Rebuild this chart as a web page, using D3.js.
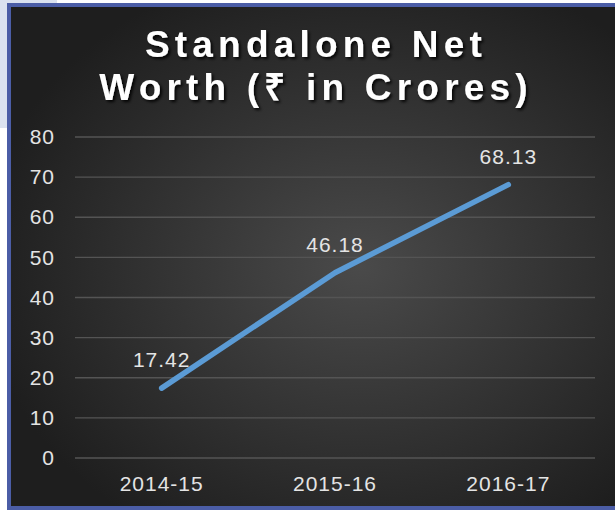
<!DOCTYPE html>
<html>
<head>
<meta charset="utf-8">
<script src="https://cdn.jsdelivr.net/npm/d3@7/dist/d3.min.js"></script>
<style>
  html, body { margin: 0; padding: 0; background: #fff; }
  svg { display: block; }
  .tick-label { font-family: "Liberation Sans", Arial, sans-serif; font-size: 21px; fill: #e4e4e4; letter-spacing: 1px; }
  .title { font-family: "Liberation Sans", Arial, sans-serif; font-size: 37px; font-weight: bold; fill: #fff; letter-spacing: 5.2px; }
</style>
</head>
<body>
<div id="chart"></div>
<script>
// Chart data
const years = ["2014-15", "2015-16", "2016-17"];
const netWorth = [17.42, 46.18, 68.13];
const yTicks = [0, 10, 20, 30, 40, 50, 60, 70, 80];
const titleLines = ["Standalone Net", "Worth (\u20B9 in Crores)"];

const width = 615;
const height = 510;
const margin = {top: 137, right: 20, bottom: 52, left: 75};

const svg = d3.select("#chart")
    .append("svg")
    .attr("width", width)
    .attr("height", height);

const defs = svg.append("defs");

const grad = defs.append("radialGradient")
    .attr("id", "bg")
    .attr("cx", "0.57").attr("cy", "0.52")
    .attr("r", "0.62");
grad.append("stop").attr("offset", "0%").attr("stop-color", "#4a4a4a");
grad.append("stop").attr("offset", "100%").attr("stop-color", "#1e1e1e");

const shadow = defs.append("filter")
    .attr("id", "shadow")
    .attr("x", "-10%").attr("y", "-20%")
    .attr("width", "120%").attr("height", "150%");
shadow.append("feDropShadow")
    .attr("dx", 2).attr("dy", 2)
    .attr("stdDeviation", 1.5)
    .attr("flood-color", "#000")
    .attr("flood-opacity", 0.9);

// pale panel behind the chart, top left
svg.append("rect")
    .attr("x", 0).attr("y", 0)
    .attr("width", 57).attr("height", 128)
    .attr("fill", "#dbe2f0");

// chart frame
svg.append("rect")
    .attr("x", 9).attr("y", 5)
    .attr("width", width).attr("height", 503)
    .attr("fill", "url(#bg)")
    .attr("stroke", "#4b5da6")
    .attr("stroke-width", 4);

// Title
svg.append("text")
    .attr("class", "title")
    .attr("text-anchor", "middle")
    .attr("filter", "url(#shadow)")
    .selectAll("tspan")
    .data(titleLines)
    .join("tspan")
    .attr("x", 316)
    .attr("y", (d, i) => 57 + i * 43)
    .text(d => d);

// Scales
const x = d3.scaleBand()
    .domain(years)
    .range([margin.left, width - margin.right]);

const y = d3.scaleLinear()
    .domain([0, 80])
    .range([height - margin.bottom, margin.top]);

// Gridlines
svg.append("g")
    .selectAll("line")
    .data(yTicks)
    .join("line")
    .attr("x1", margin.left)
    .attr("x2", width - margin.right)
    .attr("y1", d => y(d))
    .attr("y2", d => y(d))
    .attr("stroke", "#545454")
    .attr("stroke-width", 1.3);

// Y axis labels
const yAxis = d3.axisLeft(y).tickValues(yTicks).tickSize(0).tickPadding(20);
const yAxisG = svg.append("g")
    .attr("transform", `translate(${margin.left},0)`)
    .call(yAxis);
yAxisG.select(".domain").remove();
yAxisG.selectAll("text")
    .attr("class", "tick-label")
    .attr("font-size", null)
    .attr("font-family", null)
    .attr("fill", null);

// X axis labels
const xAxis = d3.axisBottom(x).tickSize(0).tickPadding(18);
const xAxisG = svg.append("g")
    .attr("transform", `translate(0,${height - margin.bottom})`)
    .call(xAxis);
xAxisG.select(".domain").remove();
xAxisG.selectAll("text")
    .attr("class", "tick-label")
    .attr("font-size", null)
    .attr("font-family", null)
    .attr("fill", null);

// Line
const line = d3.line()
    .x((d, i) => x(years[i]) + x.bandwidth() / 2)
    .y(d => y(d));

svg.append("path")
    .datum(netWorth)
    .attr("d", line)
    .attr("fill", "none")
    .attr("stroke", "#5b9bd5")
    .attr("stroke-width", 5.5)
    .attr("stroke-linecap", "round")
    .attr("stroke-linejoin", "round");

// Data labels
svg.append("g")
    .selectAll("text")
    .data(netWorth)
    .join("text")
    .attr("class", "tick-label")
    .attr("text-anchor", "middle")
    .attr("x", (d, i) => x(years[i]) + x.bandwidth() / 2)
    .attr("y", d => y(d) - 21)
    .text(d => d.toFixed(2));
</script>
</body>
</html>
